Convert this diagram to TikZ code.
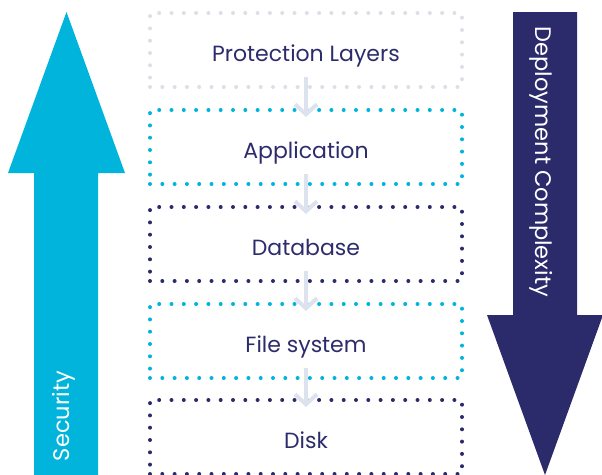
\documentclass[tikz,border=0pt]{standalone}
\usepackage{fontspec}
\setmainfont{Poppins}
\usetikzlibrary{arrows.meta}
\definecolor{cyanc}{HTML}{00B4DC}
\definecolor{navyc}{HTML}{2B2A6B}
\definecolor{textc}{HTML}{2C2C6C}
\definecolor{grayc}{HTML}{DCDFE6}
\definecolor{flowc}{HTML}{DCE3EE}
\tikzset{
  layerbox/.style={draw=#1, line width=4pt, line cap=round, dash pattern=on 0pt off 12.3pt,
    minimum width=312pt, minimum height=74pt, inner sep=0pt, text=textc,
    text height=22pt, text depth=0pt,
    font=\fontsize{22}{26}\selectfont},
  flowarrow/.style={draw=flowc, line width=4pt, -{Straight Barb[length=10pt,width=22pt]}},
  sidelabel/.style={text=white, font=\fontsize{22.5}{26}\selectfont, inner sep=0pt}
}
\begin{document}
\begin{tikzpicture}[x=1pt,y=-1pt]
\useasboundingbox (0,0) rectangle (602,474);
% big arrows
\fill[cyanc] (34,480) -- (34,173) -- (8,173) -- (66.5,12) -- (125,173) -- (98,173) -- (98,480) -- cycle;
\fill[navyc] (513,12) -- (577,12) -- (577,315) -- (603,315) -- (545,475) -- (487,315) -- (513,315) -- cycle;
\node[sidelabel, rotate=90] (sec) at (64,416) {Security};
\node[sidelabel, rotate=-90] (dep) at (541,162) {Deployment Complexity};
% boxes
\node[layerbox=grayc] (b1) at (306,50) {Protection Layers};
\node[layerbox=cyanc] (b2) at (306,147) {Application};
\node[layerbox=navyc] (b3) at (306,244) {Database};
\node[layerbox=cyanc] (b4) at (306,341) {File system};
\node[layerbox=navyc] (b5) at (306,437) {Disk};
% connectors
\foreach \a/\b in {b1/b2,b2/b3,b3/b4,b4/b5}
  \draw[flowarrow] ([yshift=12pt]\a.south) -- ([yshift=-9pt]\b.north);
\end{tikzpicture}
\end{document}
